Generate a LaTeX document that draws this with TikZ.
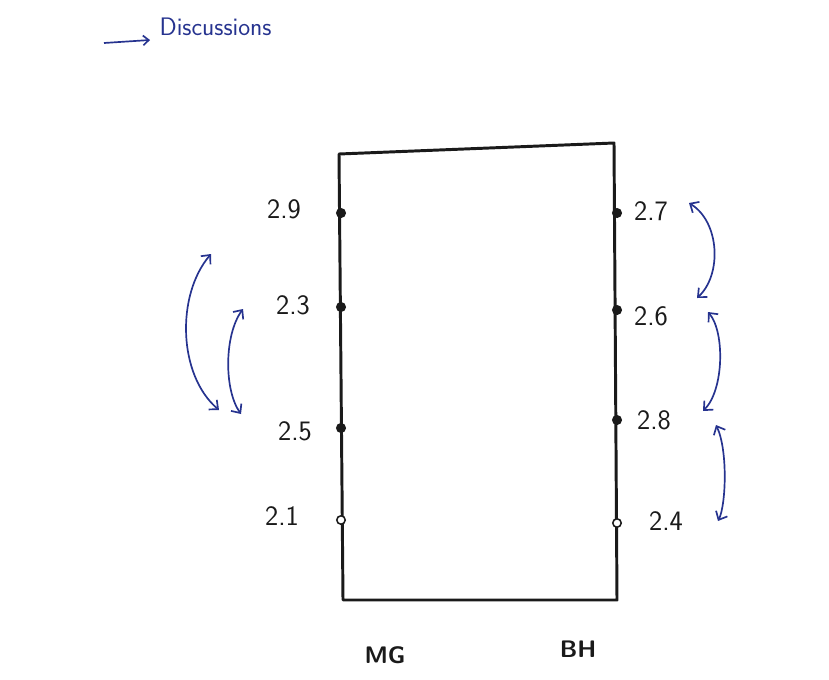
\documentclass[tikz,border=0pt]{standalone}
\usepackage{tikz}
\usetikzlibrary{arrows.meta,positioning}
\definecolor{inkCol}{HTML}{1A1A1A}
\definecolor{penCol}{HTML}{26338F}
\tikzset{
  boardline/.style={line width=2.1pt, draw=inkCol, line join=round},
  pin/.style={circle, draw=inkCol, line width=1.1pt, inner sep=0pt, minimum size=6pt},
  val/.style={font=\sffamily\fontsize{20}{24}\selectfont, text=inkCol, inner sep=1pt},
  who/.style={font=\sffamily\bfseries\fontsize{17}{20}\selectfont, text=inkCol, inner sep=1pt},
  ttl/.style={font=\sffamily\fontsize{18}{21}\selectfont, text=penCol, inner sep=1pt, anchor=west},
  xchg/.style={{Straight Barb[length=5pt,width=9pt]}-{Straight Barb[length=5pt,width=9pt]},
               line width=1.2pt, penCol},  % two-way exchange
}

\begin{document}
\begin{tikzpicture}[x=0.025cm,y=-0.025cm]
  \useasboundingbox (0,0) rectangle (829,679);

  % heading
  \node[ttl] (title) at (158,27) {Discussions};
  \coordinate (tfrom) at (104,43);
  \coordinate (tto) at (150,40);
  \draw[penCol, line width=1.2pt, -{Straight Barb[length=4pt,width=7pt]}] (tfrom) -- (tto);

  % the board
  \coordinate (bTL) at (339,154);
  \coordinate (bTR) at (614,143);
  \coordinate (bBR) at (617,600);
  \coordinate (bBL) at (343,600);
  \draw[boardline] (bTL) -- (bTR) -- (bBR) -- (bBL) -- cycle;

  % left side (MG)
  \foreach \nm/\yy/\lx/\ly/\txt/\fc in {l9/213/284/209/2.9/inkCol, l3/307/293/305/2.3/inkCol,
      l5/428/295/431/2.5/inkCol, l1/520/282/516/2.1/white}{
    \node[pin, fill=\fc] (\nm) at (341,\yy) {};
    \node[val] (\nm t) at (\lx,\ly) {\txt};
  }
  % right side (BH)
  \foreach \nm/\yy/\lx/\ly/\txt/\fc in {r7/213/651/211/2.7/inkCol, r6/310/651/316/2.6/inkCol,
      r8/420/654/420/2.8/inkCol, r4/523/666/521/2.4/white}{
    \node[pin, fill=\fc] (\nm) at (617,\yy) {};
    \node[val] (\nm t) at (\lx,\ly) {\txt};
  }

  \node[who] (mg) at (385,655) {MG};
  \node[who] (bh) at (578,649) {BH};

  % exchanges
  \coordinate (a1) at (211,254); \coordinate (a2) at (219,410);
  \coordinate (b1) at (243,309); \coordinate (b2) at (241,414);
  \coordinate (c1) at (689,203); \coordinate (c2) at (697,298);
  \coordinate (d1) at (708,312); \coordinate (d2) at (703,411);
  \coordinate (e1) at (716,425); \coordinate (e2) at (718,521);
  \draw[xchg] (a1) .. controls (176,295) and (178,375) .. (a2);
  \draw[xchg] (b1) .. controls (224,335) and (224,390) .. (b2);
  \draw[xchg] (c1) .. controls (720,222) and (722,275) .. (c2);
  \draw[xchg] (d1) .. controls (725,332) and (724,390) .. (d2);
  \draw[xchg] (e1) .. controls (728,450) and (726,505) .. (e2);
\end{tikzpicture}
\end{document}
